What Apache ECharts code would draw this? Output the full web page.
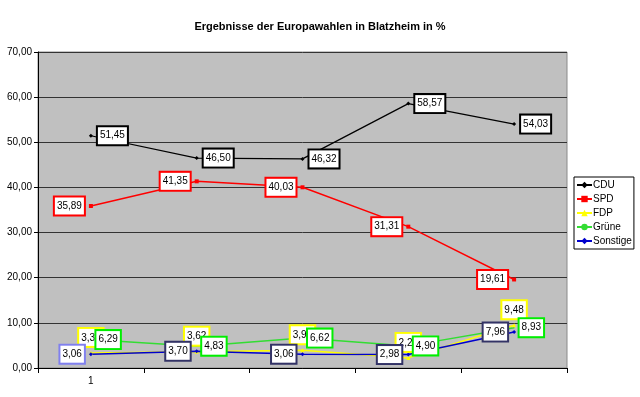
<!DOCTYPE html>
<html>
<head>
<meta charset="utf-8">
<script src="https://cdn.jsdelivr.net/npm/echarts@6/dist/echarts.min.js"></script>
<style>
  html, body { margin: 0; padding: 0; background: #fff; }
  #chart { width: 640px; height: 397px; }
</style>
</head>
<body>
<div id="chart"></div>
<script>
// Wahlen (Kategorien), nur die erste ist beschriftet
const categories = ["1", "", "", "", ""];
const cdu = [51.45, 46.50, 46.32, 58.57, 54.03];
const spd = [35.89, 41.35, 40.03, 31.31, 19.61];
const fdp = [3.34, 3.62, 3.93, 2.24, 9.48];
const gruene = [6.29, 4.83, 6.62, 4.90, 8.93];
const sonstige = [3.06, 3.70, 3.06, 2.98, 7.96];

const FONT = "Liberation Sans, Arial, sans-serif";
const fmt = v => v.toFixed(2).replace(".", ",");

function boxLabel(color, position) {
  return {
    show: true,
    position: position,
    distance: 5,
    formatter: p => fmt(p.value),
    color: "#000",
    fontFamily: FONT,
    fontSize: 10,
    backgroundColor: "#fff",
    borderColor: color,
    borderWidth: 2,
    padding: [4, 2, 3, 2],
  };
}

function series(name, data, color, symbol, size, labelColor, position, extra) {
  return Object.assign({
    name: name,
    type: "line",
    data: data,
    symbol: symbol,
    symbolSize: size,
    lineStyle: { color: color, width: 1.5 },
    itemStyle: { color: color },
    label: boxLabel(labelColor, position),
    emphasis: { disabled: true },
  }, extra || {});
}

const chart = echarts.init(document.getElementById("chart"));

const option = {
  backgroundColor: "#fff",
  animation: false,
  title: {
    text: "Ergebnisse der Europawahlen in Blatzheim in %",
    left: "center",
    top: 16,
    textStyle: { fontFamily: FONT, fontSize: 11, fontWeight: "bold", color: "#000" },
  },
  grid: {
    left: 38,
    right: 73,
    top: 52,
    bottom: 29,
    show: true,
    backgroundColor: "#c0c0c0",
    borderColor: "#8a8a8a",
    borderWidth: 1,
  },
  legend: {
    orient: "vertical",
    left: 574,
    top: 177,
    backgroundColor: "#fff",
    borderColor: "#000",
    borderWidth: 1,
    padding: [3, 2, 3, 2],
    itemGap: 4,
    itemWidth: 15,
    itemHeight: 8,
    textStyle: { fontFamily: FONT, fontSize: 10, color: "#000", padding: [0, 0, 0, -4] },
    data: ["CDU", "SPD", "FDP", "Grüne", "Sonstige"],
  },
  xAxis: {
    type: "category",
    data: categories,
    boundaryGap: true,
    axisLine: { lineStyle: { color: "#000", width: 1 } },
    axisTick: { show: true, length: 5, lineStyle: { color: "#000" } },
    axisLabel: { fontFamily: FONT, fontSize: 10, color: "#000", margin: 8 },
  },
  yAxis: {
    type: "value",
    min: 0,
    max: 70,
    interval: 10,
    axisLine: { show: true, lineStyle: { color: "#000", width: 1 } },
    axisTick: { show: true, length: 4, lineStyle: { color: "#000" } },
    axisLabel: { fontFamily: FONT, fontSize: 10, color: "#000", margin: 6, formatter: v => fmt(v) },
    splitLine: { lineStyle: { color: "#333", width: 1 } },
  },
  series: [
    series("CDU", cdu, "#000", "diamond", 4, "#000", "right", { lineStyle: { color: "#000", width: 1.2 } }),
    series("SPD", spd, "#ff0000", "rect", 4, "#ff0000", "left"),
    series("FDP", fdp, "#ffff00", "triangle", 4, "#ffff00", "top"),
    series("Grüne", gruene, "#33dd33", "circle", 1, "#00ee00", "right"),
    series("Sonstige", sonstige.map((v, i) => i === 0
      ? { value: v, label: { borderColor: "#8080ee" } }
      : v), "#0000cc", "diamond", 4, "#333366", "left"),
  ],
};

chart.setOption(option);
</script>
</body>
</html>
